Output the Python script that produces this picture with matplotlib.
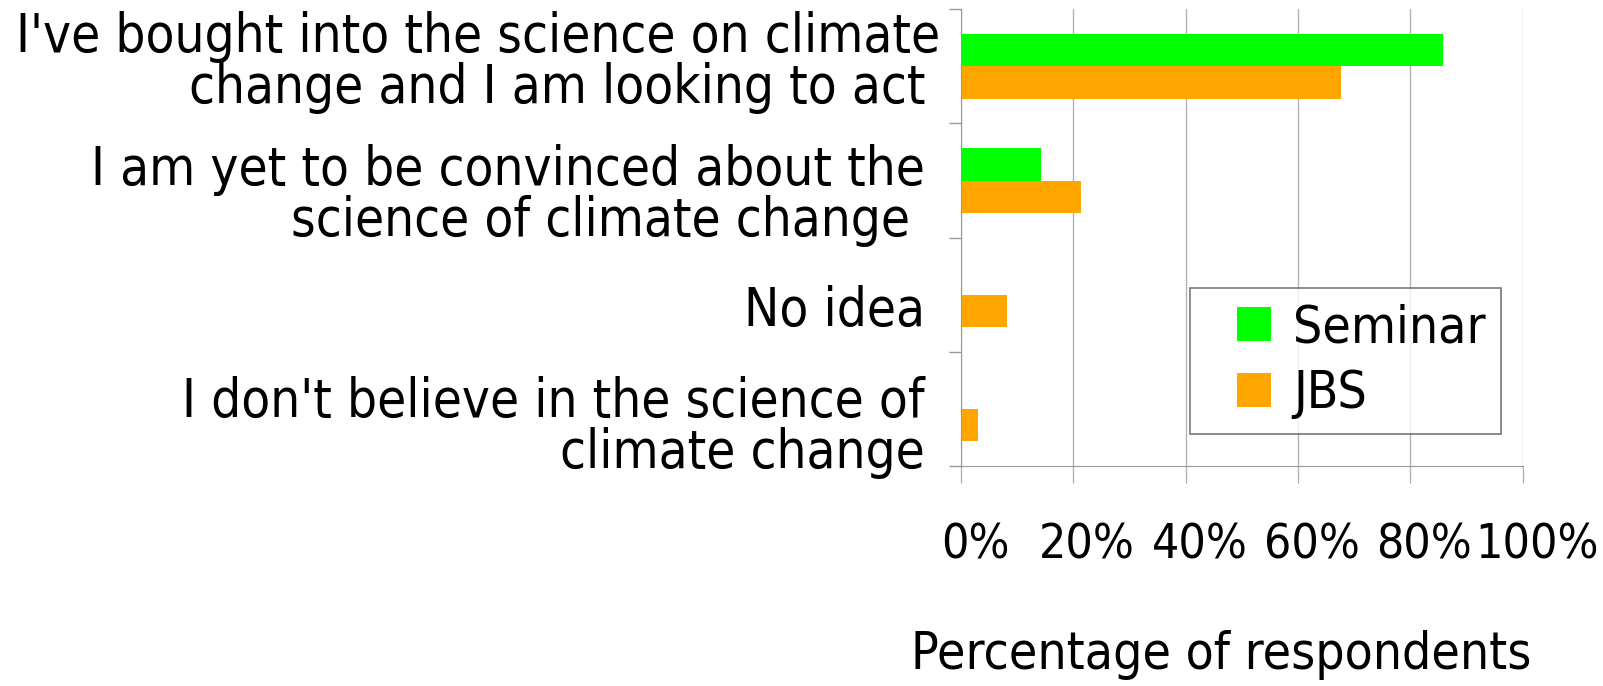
import matplotlib
matplotlib.use('Agg')
import matplotlib.pyplot as plt
import matplotlib.transforms as mtransforms
from matplotlib.lines import Line2D
import numpy as np

# Survey answers (top to bottom)
categories = [
    "I've bought into the science on climate\nchange and I am looking to act ",
    "I am yet to be convinced about the\nscience of climate change ",
    "No idea",
    "I don't believe in the science of\nclimate change",
]
seminar = [85.7, 14.3, 0, 0]
jbs = [67.7, 21.3, 8.1, 3.1]
series_names = ["Seminar", "JBS"]
series_colors = ['#00FF00', '#FFA500']
xticks = [0, 20, 40, 60, 80, 100]

plt.rcParams['font.family'] = ['DejaVu Sans']
plt.rcParams['font.stretch'] = 'condensed'

fig = plt.figure(figsize=(16.03, 6.86), dpi=100)
ax = fig.add_axes([0.5995, 0.3207, 0.3505, 0.6657])

y = np.arange(len(categories))
h = 0.285  # bar height
ax.barh(y - h / 2, seminar, h, color=series_colors[0])
ax.barh(y + h / 2, jbs, h, color=series_colors[1])

ax.set_xlim(0, 100)
ax.set_ylim(len(categories) - 0.5, -0.5)

# gridlines at the x ticks, light gray
ax.set_xticks(xticks)
ax.set_xticklabels([f"{t}%" for t in xticks])
ax.grid(axis='x', color='#b3b3b3', linewidth=1)
ax.set_axisbelow(True)

# ticks at category boundaries, labels at centres
ax.set_yticks(np.arange(len(categories) + 1) - 0.5)
ax.set_yticklabels([])
ax.set_yticks(y, minor=True)
ax.set_yticklabels(categories, minor=True, fontsize=38, linespacing=0.97,
                   ha='right', va='center')
ax.tick_params(axis='y', which='minor', length=0, pad=26)
ax.tick_params(axis='y', which='major', length=9, color='#999999', width=1)
ax.tick_params(axis='x', length=12, color='#b3b3b3', width=1, labelsize=34.5, pad=28)

# nudge labels a little (points)
x_shift = [11, 0, 0, 0]
y_shift = [3, -11, -11.5, -13.5]
for lab, dx, dy in zip(ax.get_yticklabels(minor=True), x_shift, y_shift):
    lab.set_transform(lab.get_transform() +
                      mtransforms.ScaledTranslation(dx / 72, dy / 72, fig.dpi_scale_trans))
for lab in ax.get_xticklabels():
    lab.set_transform(lab.get_transform() +
                      mtransforms.ScaledTranslation(10 / 72, 0, fig.dpi_scale_trans))

for side in ['top', 'right']:
    ax.spines[side].set_visible(False)
for side in ['left', 'bottom']:
    ax.spines[side].set_color('#999999')

ax.set_xlabel("Percentage of respondents", fontsize=37)
ax.xaxis.set_label_coords(0.463, -0.36)

handles = [Line2D([], [], linestyle='none', marker='s', markersize=24.5,
                  markerfacecolor=c, markeredgewidth=0) for c in series_colors]
leg = ax.legend(handles, series_names, loc='upper left', bbox_to_anchor=(0.408, 0.39),
                fontsize=37, frameon=True, fancybox=False, handlelength=1.9,
                borderpad=0.3, labelspacing=0.3, handletextpad=-0.2, borderaxespad=0)
leg.get_frame().set_edgecolor('#555555')
leg.get_frame().set_linewidth(1.2)

fig.savefig('out.png', dpi=100)
